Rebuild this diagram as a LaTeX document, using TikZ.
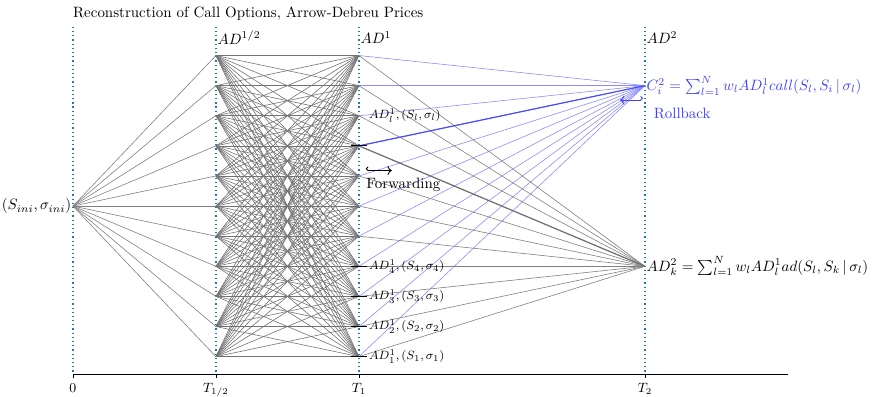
\documentclass[tikz,border=0pt]{standalone}
\usepackage{amsmath, amssymb}
\usepackage{tikz}
\usetikzlibrary{arrows.meta, positioning}
\definecolor{GridBlue}{HTML}{1F77B4}

\begin{document}
\begin{tikzpicture}[x=6.72cm, y=0.7075cm]
        \useasboundingbox (-0.255,-6.312) rectangle (2.794,6.844);
        \node[anchor=west, inner sep=0pt] (title) at (0,6.38) {Reconstruction of Call Options, Arrow-Debreu Prices};
        % Lưới thời gian
        \foreach \t/\n in {0/a, 0.5/b, 1/c, 2/d}
          \draw[dotted, thick, GridBlue] (\t,5.95) -- (\t,-5.58);
        \draw[thick] (0,-5.58) -- (2.5,-5.58);
        \foreach \t/\lab/\n in {0/0/a, 0.5/T_{1/2}/b, 1/T_1/c, 2/T_2/d}
          \draw (\t,-5.58) -- (\t,-5.72) node[below, font=\small] (tick\n) {$\lab$};
        \node[anchor=west, inner sep=1pt] (lvlh) at (0.5,5.6) {$AD^{1/2}$};
        \node[anchor=west, inner sep=1pt] (lvlf) at (1,5.6) {$AD^{1}$};
        \node[anchor=west, inner sep=1pt] (lvlt) at (2,5.6) {$AD^{2}$};
        % Các nút
        \coordinate (root) at (0,0);
        \foreach \i in {1,...,11} {
          \coordinate (h\i) at (0.5,\i-6);
          \coordinate (f\i) at (1,\i-6);
        }
        \coordinate (ci) at (2,4);
        \coordinate (adk) at (2,-2);
        % Cây
        \foreach \i in {1,...,11} {
          \draw[gray] (root) -- (h\i);
          \foreach \k in {1,...,11}
            \draw[black!55, line width=0.4pt] (h\i) -- (f\k);
        }
        \foreach \k in {1,...,11} {
          \draw[gray] (f\k) -- (adk);
          \draw[blue!45] (f\k) -- (ci);
        }
        \draw[thick, black!55] (f8) -- (adk);
        \draw[thick, blue!70] (f8) -- (ci);
        \foreach \k in {1,2,3,4,8}
          \draw[semithick] ([xshift=-0.18cm]f\k) -- ([xshift=0.18cm]f\k);
        % Nhãn
        \node[left, inner sep=1pt] (rootlab) at (root) {$(S_{ini}, \sigma_{ini})$};
        \foreach \k in {1,...,4}
          \node[right, font=\footnotesize, inner sep=1pt] (lab\k) at ([xshift=0.2cm]f\k) {$AD^1_{\k}, (S_{\k}, \sigma_{\k})$};
        \node[right, font=\footnotesize, inner sep=1pt] (labl) at ([xshift=0.2cm]f9) {$AD^1_l, (S_l, \sigma_l)$};
        \node[right, inner sep=1pt, blue!75] (cilab) at (ci) {$C^2_i = \sum_{l=1}^N w_l AD^1_l call(S_l, S_i \,|\, \sigma_l)$};
        \node[right, inner sep=1pt] (adklab) at (adk) {$AD^2_k = \sum_{l=1}^N w_l AD^1_l ad(S_l, S_k \,|\, \sigma_l)$};
        % Forwarding / Rollback
        \coordinate (fwdA) at (1.024,1.18);
        \coordinate (fwdB) at (1.115,1.18);
        \draw[semithick, {Hooks[right]}->] (fwdA) -- (fwdB);
        \node[anchor=west, inner sep=1pt] (fwd) at (1.02,0.7) {Forwarding};
        \coordinate (rbA) at (1.993,3.52);
        \coordinate (rbB) at (1.913,3.52);
        \draw[semithick, blue!75, {Hooks[left]}->] (rbA) -- (rbB);
        \node[anchor=west, inner sep=1pt, blue!75] (rb) at (2.025,3.09) {Rollback};
      \end{tikzpicture}
\end{document}
